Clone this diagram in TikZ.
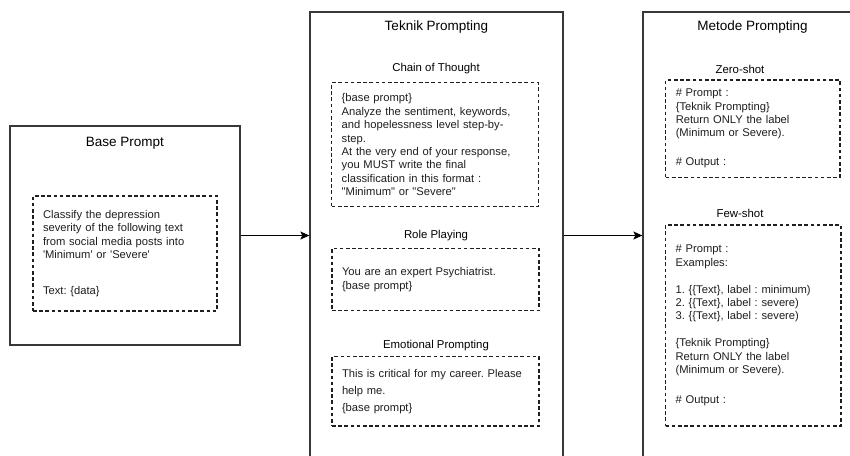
\documentclass[tikz,border=0pt]{standalone}
\usepackage{fontspec}
\newfontfamily\arialfont{Liberation Sans}
\usetikzlibrary{arrows.meta,calc}
\tikzset{
  outerbox/.style={draw=black!78, line width=1.25pt, inner sep=0pt},
  titletext/.style={font=\arialfont\fontsize{13.5}{16}\selectfont, inner sep=0pt},
  subtext/.style={font=\arialfont\fontsize{11.4}{13.5}\selectfont, inner sep=0pt},
  dbox/.style={draw=black!88, line width=1.2pt, dash pattern=on 3.6pt off 2.6pt,
    align=left, inner xsep=10pt, inner ysep=0pt, text=black!88,
    font=\arialfont\fontsize{11.2}{13.4}\selectfont},
  arrowline/.style={draw=black, line width=1.1pt, -{Stealth[length=9pt,width=8pt,inset=2pt]}}
}
\begin{document}
\frenchspacing
\begin{tikzpicture}[x=1pt,y=-1pt]
\useasboundingbox (0,0) rectangle (850,455);
\fill[white] (0,0) rectangle (850,455);
\clip (0,0) rectangle (850,455);

% outer boxes
\node[outerbox, minimum width=230pt, minimum height=219pt] (base) at (125,235.5) {};
\node[outerbox, minimum width=253pt, minimum height=468pt] (teknik) at (436.5,246) {};
\node[outerbox, minimum width=237pt, minimum height=468pt] (metode) at (761.5,246) {};

% titles
\node[titletext] (basetitle) at (125,143) {Base Prompt};
\node[titletext] (teknikTitle) at (436.5,27) {Teknik Prompting};
\node[titletext] (metodeTitle) at (752.5,27.5) {Metode Prompting};

% base prompt inner
\node[dbox, text width=164pt, minimum width=184pt, minimum height=115pt] (baseinner) at (125,253.5)
 {Classify the depression\\
  severity of the following text\\
  from social media posts into\\
  'Minimum' or 'Severe'\\[22pt]
  Text: \{data\}};

% teknik prompting
\node[subtext] (cotlabel) at (436,68.3) {Chain of Thought};
\node[dbox, text width=186.6pt, minimum width=206.6pt, minimum height=124pt] (cot) at (435,144.7)
 {\{base prompt\}\\
  Analyze the sentiment, keywords,\\
  and hopelessness level step-by-\\
  step.\\
  At the very end of your response,\\
  you MUST write the final\\
  classification in this format :\\
  "Minimum" or "Severe"};

\node[subtext] (rplabel) at (436,236) {Role Playing};
\node[dbox, text width=187pt, minimum width=207pt, minimum height=62.4pt] (rp) at (435.5,279.5)
 {You are an expert Psychiatrist.\\
  \{base prompt\}};

\node[subtext] (eplabel) at (436,346) {Emotional Prompting};
\node[dbox, text width=187pt, minimum width=207pt, minimum height=69.3pt,
  font=\arialfont\fontsize{11.2}{17}\selectfont] (ep) at (435.5,391.3)
 {This is critical for my career. Please\\
  help me.\\
  \{base prompt\}};

% metode prompting
\node[subtext] (zerolabel) at (740,69) {Zero-shot};
\node[dbox, text width=154.3pt, minimum width=174.3pt, minimum height=97.3pt] (zero) at (752.9,128.7)
 {\# Prompt :\\
  \{Teknik Prompting\}\\
  Return ONLY the label\\
  (Minimum or Severe).\\[15.6pt]
  \# Output :};

\node[subtext] (fewlabel) at (740,213) {Few-shot};
\node[dbox, text width=155.3pt, minimum width=175.3pt, minimum height=201pt] (few) at (753.3,325.5)
 {\# Prompt :\\
  Examples:\\[13.4pt]
  1. \{\{Text\}, label : minimum)\\
  2. \{\{Text\}, label : severe)\\
  3. \{\{Text\}, label : severe)\\[13.4pt]
  \{Teknik Prompting\}\\
  Return ONLY the label\\
  (Minimum or Severe).\\[16.6pt]
  \# Output :};

% connectors
\draw[arrowline] (base.east) -- (base.east -| teknik.west);
\draw[arrowline] (base.east -| teknik.east) -- (base.east -| metode.west);
\end{tikzpicture}
\end{document}
